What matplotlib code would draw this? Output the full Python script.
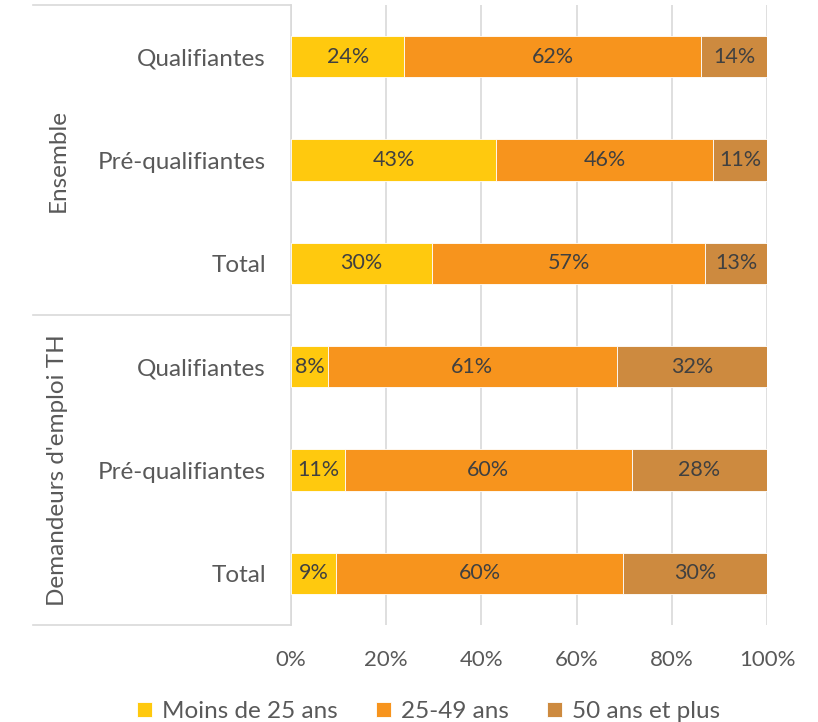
import matplotlib.pyplot as plt
import matplotlib.transforms as mtransforms
import numpy as np

plt.rcParams["font.family"] = ["Lato", "DejaVu Sans"]

categories = ["Qualifiantes", "Pré-qualifiantes", "Total",
              "Qualifiantes", "Pré-qualifiantes", "Total"]
groups = ["Ensemble", "Demandeurs d'emploi TH"]
series = ["Moins de 25 ans", "25-49 ans", "50 ans et plus"]
moins_25 = [23.8, 43.1, 29.6, 7.8, 11.3, 9.4]
de_25_49 = [62.4, 45.6, 57.4, 60.6, 60.3, 60.4]
plus_50 = [13.8, 11.3, 13.0, 31.6, 28.4, 30.2]
colors = ["#FFC90E", "#F7941D", "#CD8A3F"]
x_ticks = [0, 20, 40, 60, 80, 100]

text_col = "#404040"
tick_col = "#595959"
line_col = "#D9D9D9"

fig = plt.figure(figsize=(8.18, 7.22), dpi=100)
ax = fig.add_axes([291 / 818, 1 - 625 / 722, 476 / 818, 620 / 722])

y = np.arange(len(categories))
left = np.zeros(len(categories))
for name, vals, col in zip(series, [moins_25, de_25_49, plus_50], colors):
    vals = np.array(vals)
    ax.barh(y, vals, left=left, height=0.4, color=col, label=name,
            edgecolor="white", linewidth=0.6, zorder=3)
    for yi, l, v in zip(y, left, vals):
        ax.text(l + v / 2, yi, f"{v:.0f}%", ha="center", va="center",
                fontsize=15.5, color=text_col, zorder=4)
    left += vals

ax.set_xlim(0, 100)
ax.set_ylim(len(categories) - 0.5, -0.5)
ax.set_xticks(x_ticks)
ax.set_xticklabels([f"{t}%" for t in x_ticks])
ax.set_yticks(y)
ax.set_yticklabels(categories)
ax.tick_params(axis="y", length=0, pad=18, labelsize=17.5, labelcolor=tick_col)
ax.tick_params(axis="x", length=0, pad=18, labelsize=16, labelcolor=tick_col)
ax.grid(axis="x", color=line_col, linewidth=1.2, zorder=0)
for side in ["top", "right", "bottom"]:
    ax.spines[side].set_visible(False)
ax.spines["left"].set_color(line_col)
ax.spines["left"].set_linewidth(1.2)

# multi-level category axis: group separators and rotated group names
trans = mtransforms.blended_transform_factory(ax.transAxes, ax.transData)
x0 = (33 - 291) / 476
for yb in [-0.5, 2.5, 5.5]:
    ax.plot([x0, 0], [yb, yb], color=line_col, lw=1.2, transform=trans,
            clip_on=False)
gx = (58 - 291) / 476
ax.text(gx, 1, groups[0], rotation=90, ha="center", va="center",
        fontsize=17.5, color=tick_col, transform=trans)
ax.text(gx, 4, groups[1], rotation=90, ha="center", va="center",
        fontsize=17.5, color=tick_col, transform=trans)

leg = fig.legend(loc="lower center", bbox_to_anchor=(0.524, -0.03), ncol=3,
                 frameon=False, fontsize=17.5, handlelength=0.6,
                 handleheight=0.6, handletextpad=0.4, columnspacing=1.6)
for t in leg.get_texts():
    t.set_color(tick_col)

fig.savefig("out.png", dpi=100)
